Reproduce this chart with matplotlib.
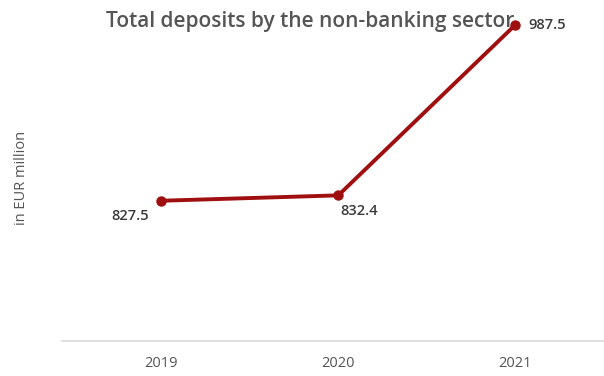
import matplotlib
matplotlib.use('Agg')
import matplotlib.pyplot as plt

# Data
years = ['2019', '2020', '2021']
deposits = [827.5, 832.4, 987.5]

line_color = '#a00f0f'
text_color = '#3a3a3a'

plt.rcParams['font.family'] = ['Open Sans', 'DejaVu Sans']

fig = plt.figure(figsize=(6.04, 3.76), dpi=100)
ax = fig.add_axes([62 / 604, 35 / 376, 542 / 604, 330 / 376])

x = list(range(len(years)))
ax.plot(x, deposits, color=line_color, linewidth=2.8, marker='o',
        markersize=6.5, solid_capstyle='round', zorder=5)

# value labels
offsets = [(-22, -11), (15, -11.5), (23, 0)]
for xi, v, (dx, dy) in zip(x, deposits, offsets):
    ax.annotate(f'{v:.1f}', (xi, v), xytext=(dx, dy), textcoords='offset points',
                ha='center', va='center', fontsize=10.5, color=text_color,
                fontweight='semibold')

ax.set_xlim(-0.56, 2.5)
ax.set_ylim(700, 1000)
ax.set_xticks(x)
ax.set_xticklabels(years, fontsize=10.5, color='#555555')
ax.tick_params(axis='x', length=0, pad=11)
ax.set_yticks([])

for s in ['top', 'right', 'left']:
    ax.spines[s].set_visible(False)
ax.spines['bottom'].set_color('#d9d9d9')
ax.spines['bottom'].set_linewidth(1.2)

fig.text(22 / 604, 1 - 178 / 376, 'in EUR million', rotation=90, ha='center',
         va='center', fontsize=10.5, color='#555555')
fig.text(310 / 604, 1 - 22 / 376, 'Total deposits by the non-banking sector',
         ha='center', va='center', fontsize=15, color='#555555',
         fontweight='semibold')

fig.savefig('out.png', dpi=100)
